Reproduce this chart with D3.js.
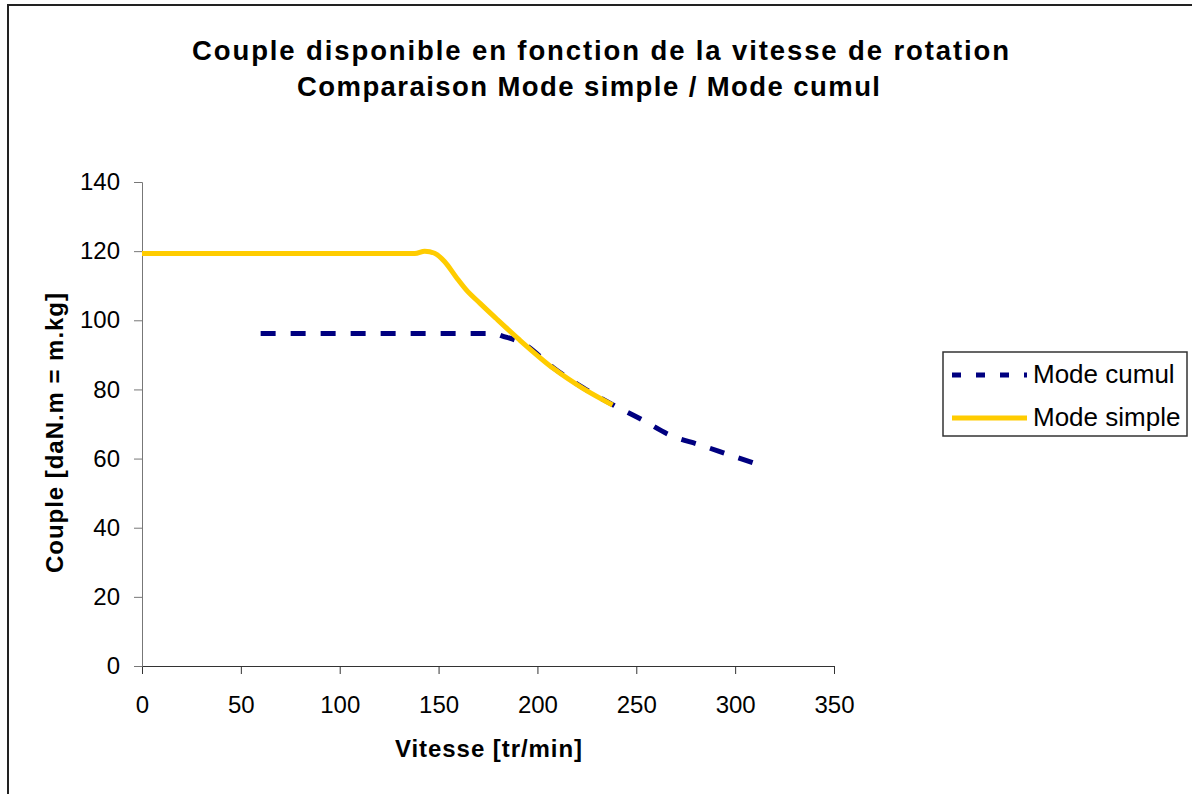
<!DOCTYPE html>
<html>
<head>
<meta charset="utf-8">
<script src="https://cdn.jsdelivr.net/npm/d3@7"></script>
<style>
  body { margin: 0; background: white; }
  text { font-family: Arial, "Liberation Sans", sans-serif; fill: black; }
</style>
</head>
<body>
<div id="container"></div>
<script>
/* CONSTANTS AND GLOBALS */
const width = 1192,
  height = 794;

/* DATA */
const titleLines = ["Couple disponible en fonction de la vitesse de rotation",
  "Comparaison Mode simple / Mode cumul"];
const xLabel = "Vitesse [tr/min]";
const yLabel = "Couple [daN.m = m.kg]";
const xTicks = [0, 50, 100, 150, 200, 250, 300, 350];
const yTicks = [0, 20, 40, 60, 80, 100, 120, 140];

// Mode simple (vitesse, couple)
const simpleX = [0, 138, 143, 148, 153, 159, 164, 171, 179, 191, 208, 223, 238];
const simpleY = [119.3, 119.3, 120.0, 119.4, 117.0, 112.4, 108.8, 104.9, 100.6, 94.3, 86.1, 80.3, 75.5];

// Mode cumul
const cumulX = [60, 178, 182, 193, 208, 223, 238, 253, 267, 282, 297, 311];
const cumulY = [96.2, 96.2, 95.5, 93.2, 86.3, 80.5, 75.6, 71.2, 66.8, 64.0, 61.1, 58.4];

const seriesNames = ["Mode cumul", "Mode simple"];

const simple = simpleX.map((x, i) => ({ x: x, y: simpleY[i] }));
const cumul = cumulX.map((x, i) => ({ x: x, y: cumulY[i] }));

const svg = d3.select("#container")
  .append("svg")
  .attr("width", width)
  .attr("height", height)
  .style("background-color", "white");

// chart border (runs off the page on the right and bottom)
svg.append("rect")
  .attr("x", 8)
  .attr("y", 5)
  .attr("width", 1200)
  .attr("height", 820)
  .attr("fill", "none")
  .attr("stroke", "#222")
  .attr("stroke-width", 2);

/* SCALES */
const xScale = d3.scaleLinear()
  .domain([0, 350])
  .range([142, 834]);

const yScale = d3.scaleLinear()
  .domain([0, 140])
  .range([666, 182]);

/* AXES */
const xAxis = d3.axisBottom(xScale)
  .tickValues(xTicks)
  .tickSize(8)
  .tickSizeOuter(8)
  .tickPadding(22);

const gx = svg.append("g")
  .attr("transform", `translate(0, ${yScale(0)})`)
  .call(xAxis);
gx.selectAll("path, line").attr("stroke", "#333");
gx.selectAll("text")
  .style("font-size", "24px")
  .style("font-family", "Arial, 'Liberation Sans', sans-serif");

const yAxis = d3.axisLeft(yScale)
  .tickValues(yTicks)
  .tickSize(8)
  .tickSizeOuter(8)
  .tickPadding(14);

const gy = svg.append("g")
  .attr("transform", `translate(${xScale(0)}, 0)`)
  .call(yAxis);
gy.selectAll("path, line").attr("stroke", "#777");
gy.selectAll("text")
  .style("font-size", "24px")
  .style("font-family", "Arial, 'Liberation Sans', sans-serif");

/* LINES */
const line = d3.line()
  .x(d => xScale(d.x))
  .y(d => yScale(d.y))
  .curve(d3.curveMonotoneX);

svg.append("path")
  .datum(cumul)
  .attr("d", line)
  .attr("fill", "none")
  .attr("stroke", "#000080")
  .attr("stroke-width", 5)
  .attr("stroke-dasharray", "15,15");

svg.append("path")
  .datum(simple)
  .attr("d", line)
  .attr("fill", "none")
  .attr("stroke", "#FFCC00")
  .attr("stroke-width", 5);

/* TITLES */
const titlePos = [{ x: 192, y: 60, w: 817 }, { x: 297, y: 96, w: 583 }];
svg.selectAll(".title")
  .data(titleLines)
  .join("text")
  .attr("class", "title")
  .attr("x", (d, i) => titlePos[i].x)
  .attr("y", (d, i) => titlePos[i].y)
  .attr("textLength", (d, i) => titlePos[i].w)
  .attr("lengthAdjust", "spacing")
  .style("font-size", "27.5px")
  .style("font-weight", "bold")
  .text(d => d);

svg.append("text")
  .attr("x", 395)
  .attr("y", 757)
  .attr("textLength", 187)
  .attr("lengthAdjust", "spacing")
  .style("font-size", "24px")
  .style("font-weight", "bold")
  .text(xLabel);

svg.append("text")
  .attr("transform", "translate(63, 433) rotate(-90)")
  .attr("text-anchor", "middle")
  .attr("textLength", 280)
  .attr("lengthAdjust", "spacing")
  .style("font-size", "24px")
  .style("font-weight", "bold")
  .text(yLabel);

/* LEGEND */
const legend = svg.append("g");
legend.append("rect")
  .attr("x", 943)
  .attr("y", 352)
  .attr("width", 244)
  .attr("height", 84)
  .attr("fill", "white")
  .attr("stroke", "#333")
  .attr("stroke-width", 1.5);

const legendY = [375, 418];
const legendStyle = [
  { color: "#000080", dash: "9,15" },
  { color: "#FFCC00", dash: null }
];
seriesNames.forEach((name, i) => {
  legend.append("line")
    .attr("x1", 952)
    .attr("x2", 1027)
    .attr("y1", legendY[i])
    .attr("y2", legendY[i])
    .attr("stroke", legendStyle[i].color)
    .attr("stroke-width", 5)
    .attr("stroke-dasharray", legendStyle[i].dash);
  legend.append("text")
    .attr("x", 1033)
    .attr("y", legendY[i] + 8)
    .style("font-size", "26px")
    .text(name);
});
</script>
</body>
</html>
